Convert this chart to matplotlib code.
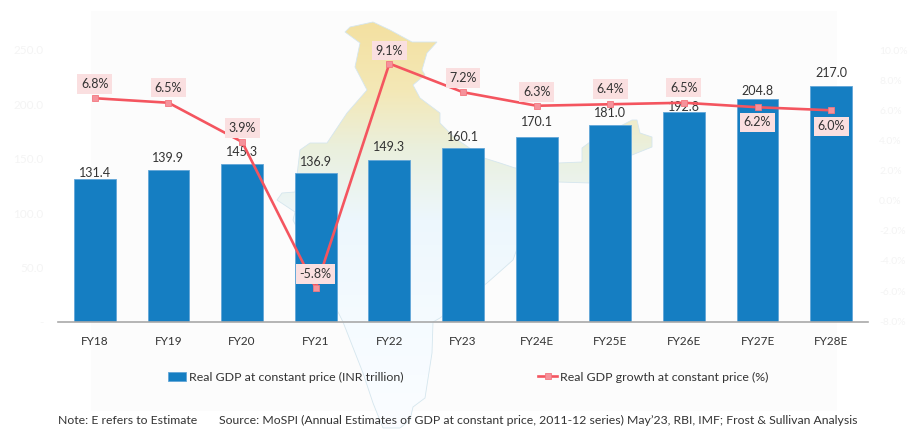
import numpy as np
import matplotlib
matplotlib.use('Agg')
import matplotlib.pyplot as plt
from matplotlib.patches import Polygon, Rectangle

plt.rcParams['font.family'] = ['Lato', 'DejaVu Sans']

years = ['FY18', 'FY19', 'FY20', 'FY21', 'FY22', 'FY23', 'FY24E', 'FY25E', 'FY26E', 'FY27E', 'FY28E']
gdp = [131.4, 139.9, 145.3, 136.9, 149.3, 160.1, 170.1, 181.0, 192.8, 204.8, 217.0]
growth = [6.8, 6.5, 3.9, -5.8, 9.1, 7.2, 6.3, 6.4, 6.5, 6.2, 6.0]
left_ticks = [0, 50, 100, 150, 200, 250]
left_labels = ['-', '50.0', '100.0', '150.0', '200.0', '250.0']
right_ticks = [-8, -6, -4, -2, 0, 2, 4, 6, 8, 10]
right_labels = ['-8.0%', '-6.0%', '-4.0%', '-2.0%', '0.0%', '2.0%', '4.0%', '6.0%', '8.0%', '10.0%']

#label offsets in pixels, above the mark unless negative
gdp_off = [6, 12, 12, 11, 13, 11, 15, 12, 5, 8, 13]
growth_off = [14, 15, 14, 14, 13, 14, 14, 15, 15, -15, -16]

#outline of the map behind the chart, in picture pixels
india = [(345, 32), (350, 27), (373, 22), (390, 30), (412, 42), (437, 42), (427, 53), (422, 70), (425, 75),
         (413, 85), (420, 98), (440, 113), (440, 123), (455, 138), (484, 158), (500, 163), (515, 168), (558, 163),
         (582, 162), (582, 148), (590, 142), (632, 120), (637, 120), (640, 133), (652, 137), (652, 147), (632, 155),
         (590, 183), (558, 182), (540, 185), (513, 260), (487, 283), (440, 318), (433, 322), (432, 353), (425, 398),
         (413, 407), (410, 420), (400, 428), (383, 428), (373, 403), (363, 373), (343, 322), (337, 310), (293, 220),
         (295, 212), (277, 200), (282, 193), (295, 192), (300, 150), (310, 143), (327, 143), (347, 113), (367, 90),
         (355, 67), (360, 43)]

px_w, px_h = 912, 430
fig = plt.figure(figsize=(px_w/100, px_h/100), dpi=100)

#background: faint panel and the map with a vertical fade
bg = fig.add_axes([0, 0, 1, 1])
bg.set_xlim(0, px_w)
bg.set_ylim(px_h, 0)
bg.axis('off')
bg.add_patch(Rectangle((91, 11), 746, 400, fc='#fcfcfc', ec='none'))
stops_y = [20, 90, 150, 220, 320, 430]
stops_c = np.array([(243, 224, 160), (244, 232, 182), (234, 240, 222), (237, 247, 253), (245, 251, 255), (251, 253, 255)])/255
yy = np.arange(20, 431)
fade = np.stack([np.interp(yy, stops_y, stops_c[:, i]) for i in range(3)], axis=1)[:, None, :]
im = bg.imshow(fade, extent=(270, 660, 430, 20), aspect='auto', zorder=1)
outline = Polygon(india, closed=True, fc='none', ec='#d5e6ee', lw=0.6, zorder=2)
bg.add_patch(outline)
im.set_clip_path(outline)
bg.set_xlim(0, px_w)
bg.set_ylim(px_h, 0)

ax = fig.add_axes([58/px_w, (px_h-322)/px_h, 810/px_w, 272/px_h])
ax.patch.set_alpha(0)
x = np.arange(len(years))
bars = ax.bar(x, gdp, width=0.567, color='#157ec2', edgecolor='#62a6d8', linewidth=0.6,
              label='Real GDP at constant price (INR trillion)')
ax.set_xlim(-0.5, len(years)-0.5)
ax.set_ylim(0, 250)
ax.set_xticks(x, years)
ax.set_yticks(left_ticks, left_labels)
ax.tick_params(axis='x', length=0, pad=10, labelsize=8.5, labelcolor='#333333')
ax.tick_params(axis='y', length=0, pad=10.5, labelsize=8.5, labelcolor='#f4f4f4')
for s in ['top', 'left', 'right']:
    ax.spines[s].set_visible(False)
ax.spines['bottom'].set_color('#a9a9a9')
ax.spines['bottom'].set_linewidth(1.2)

for xi, v, off in zip(x, gdp, gdp_off):
    ax.annotate('%.1f' % v, (xi, v), xytext=(0, off*0.72), textcoords='offset points',
                ha='center', va='center', fontsize=9, color='#333333')

ax2 = ax.twinx()
ax2.patch.set_alpha(0)
ax2.set_ylim(-8.05, 10)
ax2.set_yticks(right_ticks, right_labels)
ax2.tick_params(axis='y', length=0, pad=8, labelsize=7.5, labelcolor='#f4f4f4')
for s in ax2.spines.values():
    s.set_visible(False)
ax2.plot(x, growth, color='#f4555f', lw=1.9, marker='s', ms=4.2, mfc='#f5929b', mec='#f4777f', mew=0.6,
         label='Real GDP growth at constant price (%)')

for xi, v, off in zip(x, growth, growth_off):
    ax2.annotate('%.1f%%' % v, (xi, v), xytext=(0, off*0.72), textcoords='offset points',
                 ha='center', va='center', fontsize=9, color='#333333', zorder=6,
                 bbox=dict(boxstyle='square,pad=0.3', fc='#fadfe0', ec='none'))

handles = [bars, ax2.get_lines()[0]]
fig.legend(handles, [h.get_label() for h in handles], ncols=2, frameon=False, fontsize=8.9,
           loc='center', bbox_to_anchor=(468/px_w, 1-377/px_h), columnspacing=10.9,
           handlelength=1.5, handletextpad=0.25, labelcolor='#333333')

fig.text(58/px_w, 1-420/px_h, 'Note: E refers to Estimate', fontsize=8.85, color='#333333', va='center')
fig.text(219/px_w, 1-420/px_h, 'Source: MoSPI (Annual Estimates of GDP at constant price, 2011-12 series) May’23, RBI, IMF; Frost & Sullivan Analysis',
         fontsize=8.83, color='#333333', va='center')

fig.savefig('out.png', dpi=100)
